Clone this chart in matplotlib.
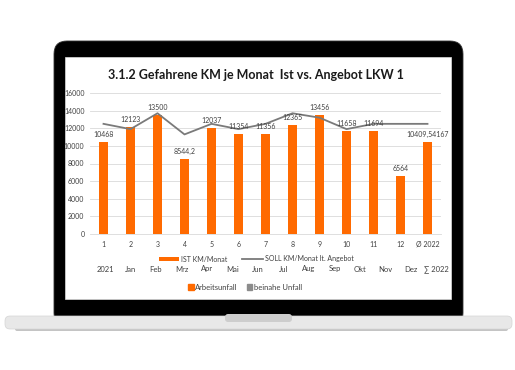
import matplotlib
matplotlib.use('Agg')
import matplotlib.pyplot as plt
from matplotlib.patches import FancyBboxPatch, Rectangle, Patch

plt.rcParams['font.family'] = ['Lato', 'DejaVu Sans']

# chart data
categories = ['1', '2', '3', '4', '5', '6', '7', '8', '9', '10', '11', '12', 'Ø 2022']
ist_km = [10468, 12123, 13500, 8544.2, 12037, 11354, 11356, 12365, 13456,
          11658, 11694, 6564, 10409.54167]
ist_labels = ['10468', '12123', '13500', '8544,2', '12037', '11354', '11356',
              '12365', '13456', '11658', '11694', '6564', '10409,54167']
soll_km = [12500, 11900, 13700, 11300, 12500, 11900, 12500, 13700, 13200,
           11900, 12500, 12500, 12500]
month_row = ['2021', 'Jan', 'Feb', 'Mrz', 'Apr', 'Mai', 'Jun', 'Jul', 'Aug',
             'Sep', 'Okt', 'Nov', 'Dez', '∑ 2022']
yticks = list(range(0, 16001, 2000))

ORANGE = '#ff6a00'
GREY_LINE = '#7a7a7a'
TXT = '#404040'

fig = plt.figure(figsize=(5.15, 3.7), dpi=100)
fig.patch.set_facecolor('white')

# laptop mockup, drawn in pixel coordinates
bg = fig.add_axes([0, 0, 1, 1], zorder=0)
bg.set_xlim(0, 515)
bg.set_ylim(370, 0)
bg.axis('off')

bezel = FancyBboxPatch((54, 41), 409, 285, boxstyle='round,pad=0,rounding_size=13',
                       fc='black', ec='#333333', lw=0.6)
bg.add_patch(bezel)
bg.add_patch(Rectangle((65, 57), 386, 242, fc='white', ec='#dddddd', lw=0.5))
bg.add_patch(FancyBboxPatch((15, 327), 493, 4, boxstyle='round,pad=0,rounding_size=2',
                            fc='#c4c4c4', ec='none'))
bg.add_patch(FancyBboxPatch((5, 316), 507, 13, boxstyle='round,pad=0,rounding_size=5',
                            fc='#e8e8e8', ec='#d4d4d4', lw=0.5))
bg.add_patch(FancyBboxPatch((225, 314), 67, 8, boxstyle='round,pad=0,rounding_size=3',
                            fc='#cdcdcd', ec='none'))

# chart
ax = fig.add_axes([90 / 515, 1 - 234 / 370, 351 / 515, 141 / 370], zorder=2)
ax.set_facecolor('none')
x = list(range(len(categories)))
bars = ax.bar(x, ist_km, width=0.33, color=ORANGE, zorder=2, label='IST KM/Monat')
line, = ax.plot(x, soll_km, color=GREY_LINE, lw=1.3, zorder=3,
                label='SOLL KM/Monat lt. Angebot')
for xi, v, lab in zip(x, ist_km, ist_labels):
    ax.annotate(lab, (xi, v), xytext=(0, 3), textcoords='offset points',
                ha='center', va='bottom', fontsize=5, color=TXT, zorder=4)

ax.set_xlim(-0.5, len(categories) - 0.5)
ax.set_ylim(0, 16000)
ax.set_yticks(yticks)
ax.set_yticklabels([str(t) for t in yticks])
ax.set_xticks(x)
ax.set_xticklabels(categories)
ax.tick_params(axis='both', length=0, labelsize=5, colors=TXT)
ax.tick_params(axis='y', pad=4)
ax.tick_params(axis='x', pad=5)
ax.grid(axis='y', color='#d9d9d9', lw=0.6, zorder=0)
for s in ['top', 'right', 'left']:
    ax.spines[s].set_visible(False)
ax.spines['bottom'].set_color('#d9d9d9')
ax.spines['bottom'].set_linewidth(0.6)

fig.text(256 / 515, 1 - 75 / 370, '3.1.2 Gefahrene KM je Monat  Ist vs. Angebot LKW 1',
         ha='center', va='center', fontsize=9, fontweight='bold', color='#1a1a1a')

ax.legend(handles=[bars, line], loc='center', bbox_to_anchor=(256 / 515, 1 - 259 / 370),
          bbox_transform=fig.transFigure, ncol=2, frameon=False, fontsize=5,
          handlelength=3, handleheight=0.35, columnspacing=2, handletextpad=0.3,
          labelcolor=TXT)

# second row of labels and legend from the overlapping chart
for i, m in enumerate(month_row):
    fig.text((105 + i * 25.5) / 515, 1 - 269 / 370, m, ha='center', va='center',
             fontsize=5.5, color=TXT)
fig.legend(handles=[Patch(color=ORANGE, label='Arbeitsunfall'),
                    Patch(color='#8c8c8c', label='beinahe Unfall')],
           loc='center', bbox_to_anchor=(245 / 515, 1 - 287 / 370), ncol=2,
           frameon=False, fontsize=5.5, handlelength=0.7, handleheight=0.7,
           handletextpad=0.2, columnspacing=1.2, labelcolor=TXT)

fig.savefig('out.png', dpi=100)
